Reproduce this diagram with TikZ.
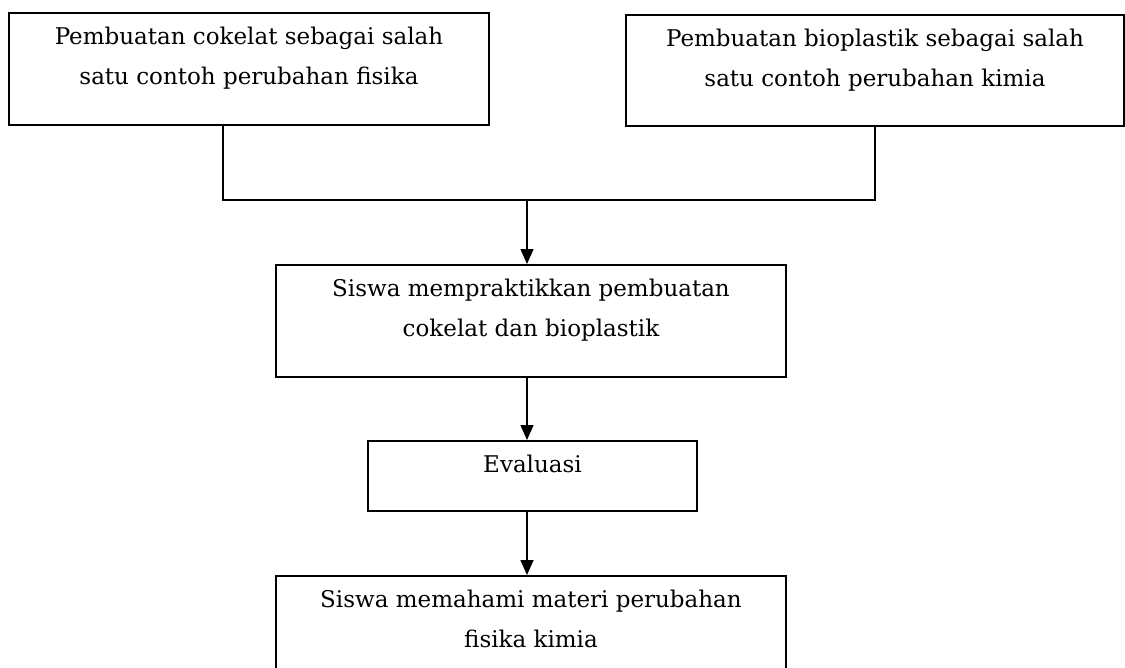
\documentclass[tikz,border=0pt]{standalone}
\usepackage{fontspec}
\setmainfont{DejaVu Serif}
\usetikzlibrary{arrows.meta,positioning}

\begin{document}
\begin{tikzpicture}[x=1pt, y=-1pt, >={Triangle[width=13pt,length=15pt]}, line width=1.6pt,
    kotak/.style={draw, line width=2pt, anchor=north west, inner sep=0pt},
    teks/.style={align=center, inner sep=0pt, font=\fontsize{23}{40}\selectfont}]
  \useasboundingbox (0,0) rectangle (1125,667);
  % boxes
  \node[kotak, minimum width=480pt, minimum height=112pt] (fisika) at (8,12) {};
  \node[kotak, minimum width=498pt, minimum height=111pt] (kimia) at (625,14) {};
  \node[kotak, minimum width=510pt, minimum height=112pt] (praktik) at (275,264) {};
  \node[kotak, minimum width=329pt, minimum height=70pt] (evaluasi) at (367,440) {};
  \node[kotak, minimum width=510pt, minimum height=120pt] (paham) at (275,575) {};
  % texts
  \node[teks, below=14pt of fisika.north] (fisika-t) {Pembuatan cokelat sebagai salah\\satu contoh perubahan fisika};
  \node[teks, below=14pt of kimia.north] (kimia-t) {Pembuatan bioplastik sebagai salah\\satu contoh perubahan kimia};
  \node[teks, below=14pt of praktik.north] (praktik-t) {Siswa mempraktikkan pembuatan\\cokelat dan bioplastik};
  \node[teks, below=14pt of evaluasi.north] (evaluasi-t) {Evaluasi};
  \node[teks, below=14pt of paham.north] (paham-t) {Siswa memahami materi perubahan\\fisika kimia};
  % connectors
  \coordinate (kiri) at (223,200);
  \coordinate (kanan) at (875,200);
  \coordinate (gabung) at (527,200);
  \draw (kiri |- fisika.south) -- (kiri) -- (kanan) -- (kanan |- kimia.south);
  \draw[->] (gabung) -- (gabung |- praktik.north);
  \draw[->] (gabung |- praktik.south) -- (gabung |- evaluasi.north);
  \draw[->] (gabung |- evaluasi.south) -- (gabung |- paham.north);
\end{tikzpicture}
\end{document}
